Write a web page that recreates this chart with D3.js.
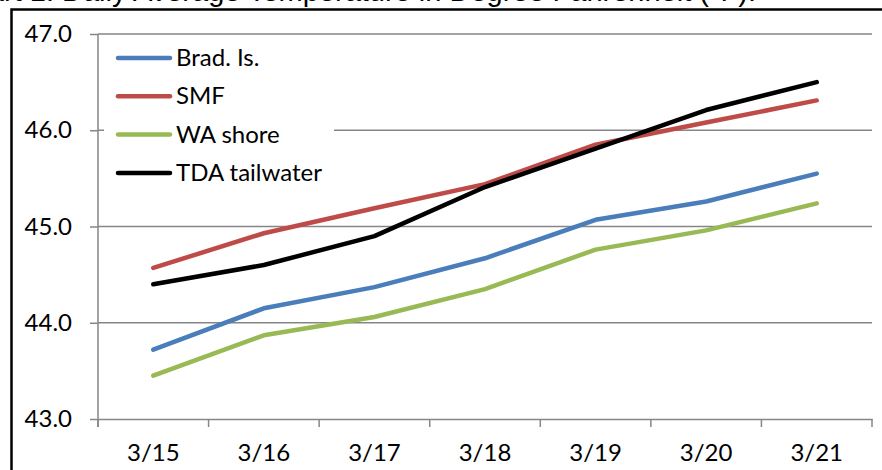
<!DOCTYPE html>
<html><head><meta charset="utf-8">
<script src="https://cdn.jsdelivr.net/npm/d3@7"></script>
<style>body{margin:0;background:#fff}svg{display:block}</style>
</head><body>
<svg id="c" width="882" height="470"></svg>
<script>
const categories = ["3/15","3/16","3/17","3/18","3/19","3/20","3/21"];
const bradIs     = [43.72, 44.15, 44.37, 44.67, 45.07, 45.26, 45.55];
const smf        = [44.57, 44.93, 45.19, 45.44, 45.85, 46.08, 46.31];
const waShore    = [43.45, 43.87, 44.06, 44.35, 44.76, 44.96, 45.24];
const tdaTail    = [44.40, 44.60, 44.90, 45.41, 45.81, 46.21, 46.50];
const yTicks     = [43, 44, 45, 46, 47];
const seriesNames = ["Brad. Is.","SMF","WA shore","TDA tailwater"];
const seriesColors = ["#4A7EBB","#BE4B48","#98B954","#000000"];
const seriesData = [bradIs, smf, waShore, tdaTail];

(function(){
const svg = d3.select("#c");
const titleFont = "Liberation Sans, Arial, sans-serif";
const font = "Lato, 'Open Sans', sans-serif";
const pL = 98, pR = 872, pT = 34, pB = 419;

// title (cut off at top)
svg.append("text").attr("x", 756).attr("y", 1).attr("text-anchor","end")
  .attr("font-family", titleFont).attr("font-size", 29).attr("fill","#000")
  .text("Chart 1: Daily Average Temperature in Degree Fahrenheit (°F).");

// outer frame
svg.append("rect").attr("x",11.5).attr("y",9.5).attr("width",1000).attr("height",1000)
  .attr("fill","none").attr("stroke","#000").attr("stroke-width",2.5);

const x = d3.scaleBand().domain(categories).range([pL, pR]).padding(0);
const y = d3.scaleLinear().domain([43,47]).range([pB, pT]);

// gridlines
svg.append("g").selectAll("line").data(yTicks.filter(d=>d>43)).join("line")
  .attr("x1", pL).attr("x2", pR).attr("y1", d=>y(d)).attr("y2", d=>y(d))
  .attr("stroke","#868686").attr("stroke-width",1.5);

// y axis
const ya = svg.append("g").attr("transform",`translate(${pL},0)`)
  .call(d3.axisLeft(y).tickValues(yTicks).tickFormat(d3.format(".1f")).tickSizeInner(8).tickSizeOuter(0).tickPadding(18));
ya.select(".domain").remove();
ya.selectAll(".tick line").attr("stroke","#868686").attr("stroke-width",1.5);
ya.selectAll("text").attr("font-family",font).attr("font-size",24).attr("fill","#000");
svg.append("line").attr("x1",pL).attr("x2",pL).attr("y1",pT).attr("y2",pB+8)
  .attr("stroke","#868686").attr("stroke-width",1.5);

// x axis
const xa = svg.append("g").attr("transform",`translate(0,${pB})`)
  .call(d3.axisBottom(x).tickSize(0).tickPadding(25));
xa.select(".domain").attr("stroke","#868686").attr("stroke-width",1.5);
xa.selectAll("text").attr("font-family",font).attr("font-size",24).attr("fill","#000");
const bounds = categories.map(c=>x(c)).concat([pR]);
svg.append("g").selectAll("line").data(bounds).join("line")
  .attr("x1",d=>d).attr("x2",d=>d).attr("y1",pB).attr("y2",pB+8)
  .attr("stroke","#868686").attr("stroke-width",1.5);

// legend background
svg.append("rect").attr("x",104).attr("y",40).attr("width",230).attr("height",150).attr("fill","#fff");

// lines
const line = d3.line().x((d,i)=>x(categories[i])+x.bandwidth()/2).y(d=>y(d));
seriesData.forEach((s,k)=>{
  svg.append("path").datum(s).attr("d",line).attr("fill","none")
    .attr("stroke",seriesColors[k]).attr("stroke-width",4.5)
    .attr("stroke-linejoin","round").attr("stroke-linecap","round");
});

// legend
const lg = svg.append("g");
seriesNames.forEach((n,k)=>{
  const yy = 58 + k*38.3;
  lg.append("line").attr("x1",118).attr("x2",170).attr("y1",yy).attr("y2",yy)
    .attr("stroke",seriesColors[k]).attr("stroke-width",4.5).attr("stroke-linecap","round");
  lg.append("text").attr("x",176).attr("y",yy+8).attr("font-family",font)
    .attr("font-size",24).attr("fill","#000").text(n);
});
})();
</script>
</body></html>
